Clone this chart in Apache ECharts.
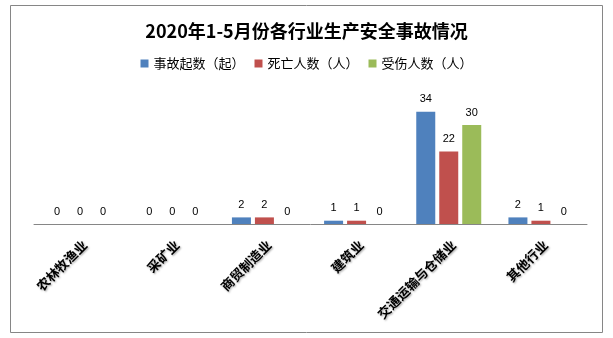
<!DOCTYPE html>
<html><head><meta charset="utf-8">
<script src="https://cdn.jsdelivr.net/npm/echarts@6/dist/echarts.min.js"></script>
<style>html,body{margin:0;padding:0;background:#fff}#c{width:613px;height:338px}</style>
</head><body><div id="c"></div>
<script>
const categories = ['农林牧渔业','采矿业','商贸制造业','建筑业','交通运输与仓储业','其他行业'];
const accidents = [0,0,2,1,34,2];
const deaths = [0,0,2,1,22,1];
const injuries = [0,0,0,0,30,0];
const seriesNames = ['事故起数（起）','死亡人数（人）','受伤人数（人）'];
const colors = ['#4F81BD','#C0504D','#9BBB59'];

const chart = echarts.init(document.getElementById('c'));
const label = {show:true, position:'top', distance:7, color:'#000', fontSize:11, fontFamily:'Liberation Sans, Arial, sans-serif'};
chart.setOption({
  animation:false,
  graphic:[{type:'rect', shape:{x:10.5,y:5.5,width:592,height:327}, style:{fill:'none', stroke:'#868686', lineWidth:1}, silent:true}],
  title:{text:'2020年1-5月份各行业生产安全事故情况', left:'center', top:17,
    textStyle:{fontSize:18, fontWeight:'bold', color:'#000', fontFamily:'Noto Sans CJK SC, sans-serif'}},
  legend:{top:52, left:'center', itemWidth:8, itemHeight:8, itemGap:10, icon:'rect',
    textStyle:{fontSize:13, color:'#000', fontFamily:'Noto Sans CJK SC, sans-serif'}},
  grid:{left:34, right:26, top:92, bottom:114},
  xAxis:{type:'category', data:categories,
    axisLine:{lineStyle:{color:'#868686'}}, axisTick:{show:false},
    axisLabel:{rotate:45, interval:0, margin:14, verticalAlign:'top', fontSize:13, fontWeight:'bold', color:'#000',
      fontFamily:'Noto Sans CJK SC, sans-serif', textShadowColor:'rgba(0,0,0,0.35)', textShadowBlur:2, textShadowOffsetX:1, textShadowOffsetY:1}},
  yAxis:{type:'value', min:0, max:40, show:false, splitLine:{show:false}},
  series:[accidents,deaths,injuries].map((d,i)=>({
    name:seriesNames[i], type:'bar', data:d, barWidth:19, barGap:'21%',
    itemStyle:{color:colors[i]}, label:label
  }))
});
</script></body></html>
